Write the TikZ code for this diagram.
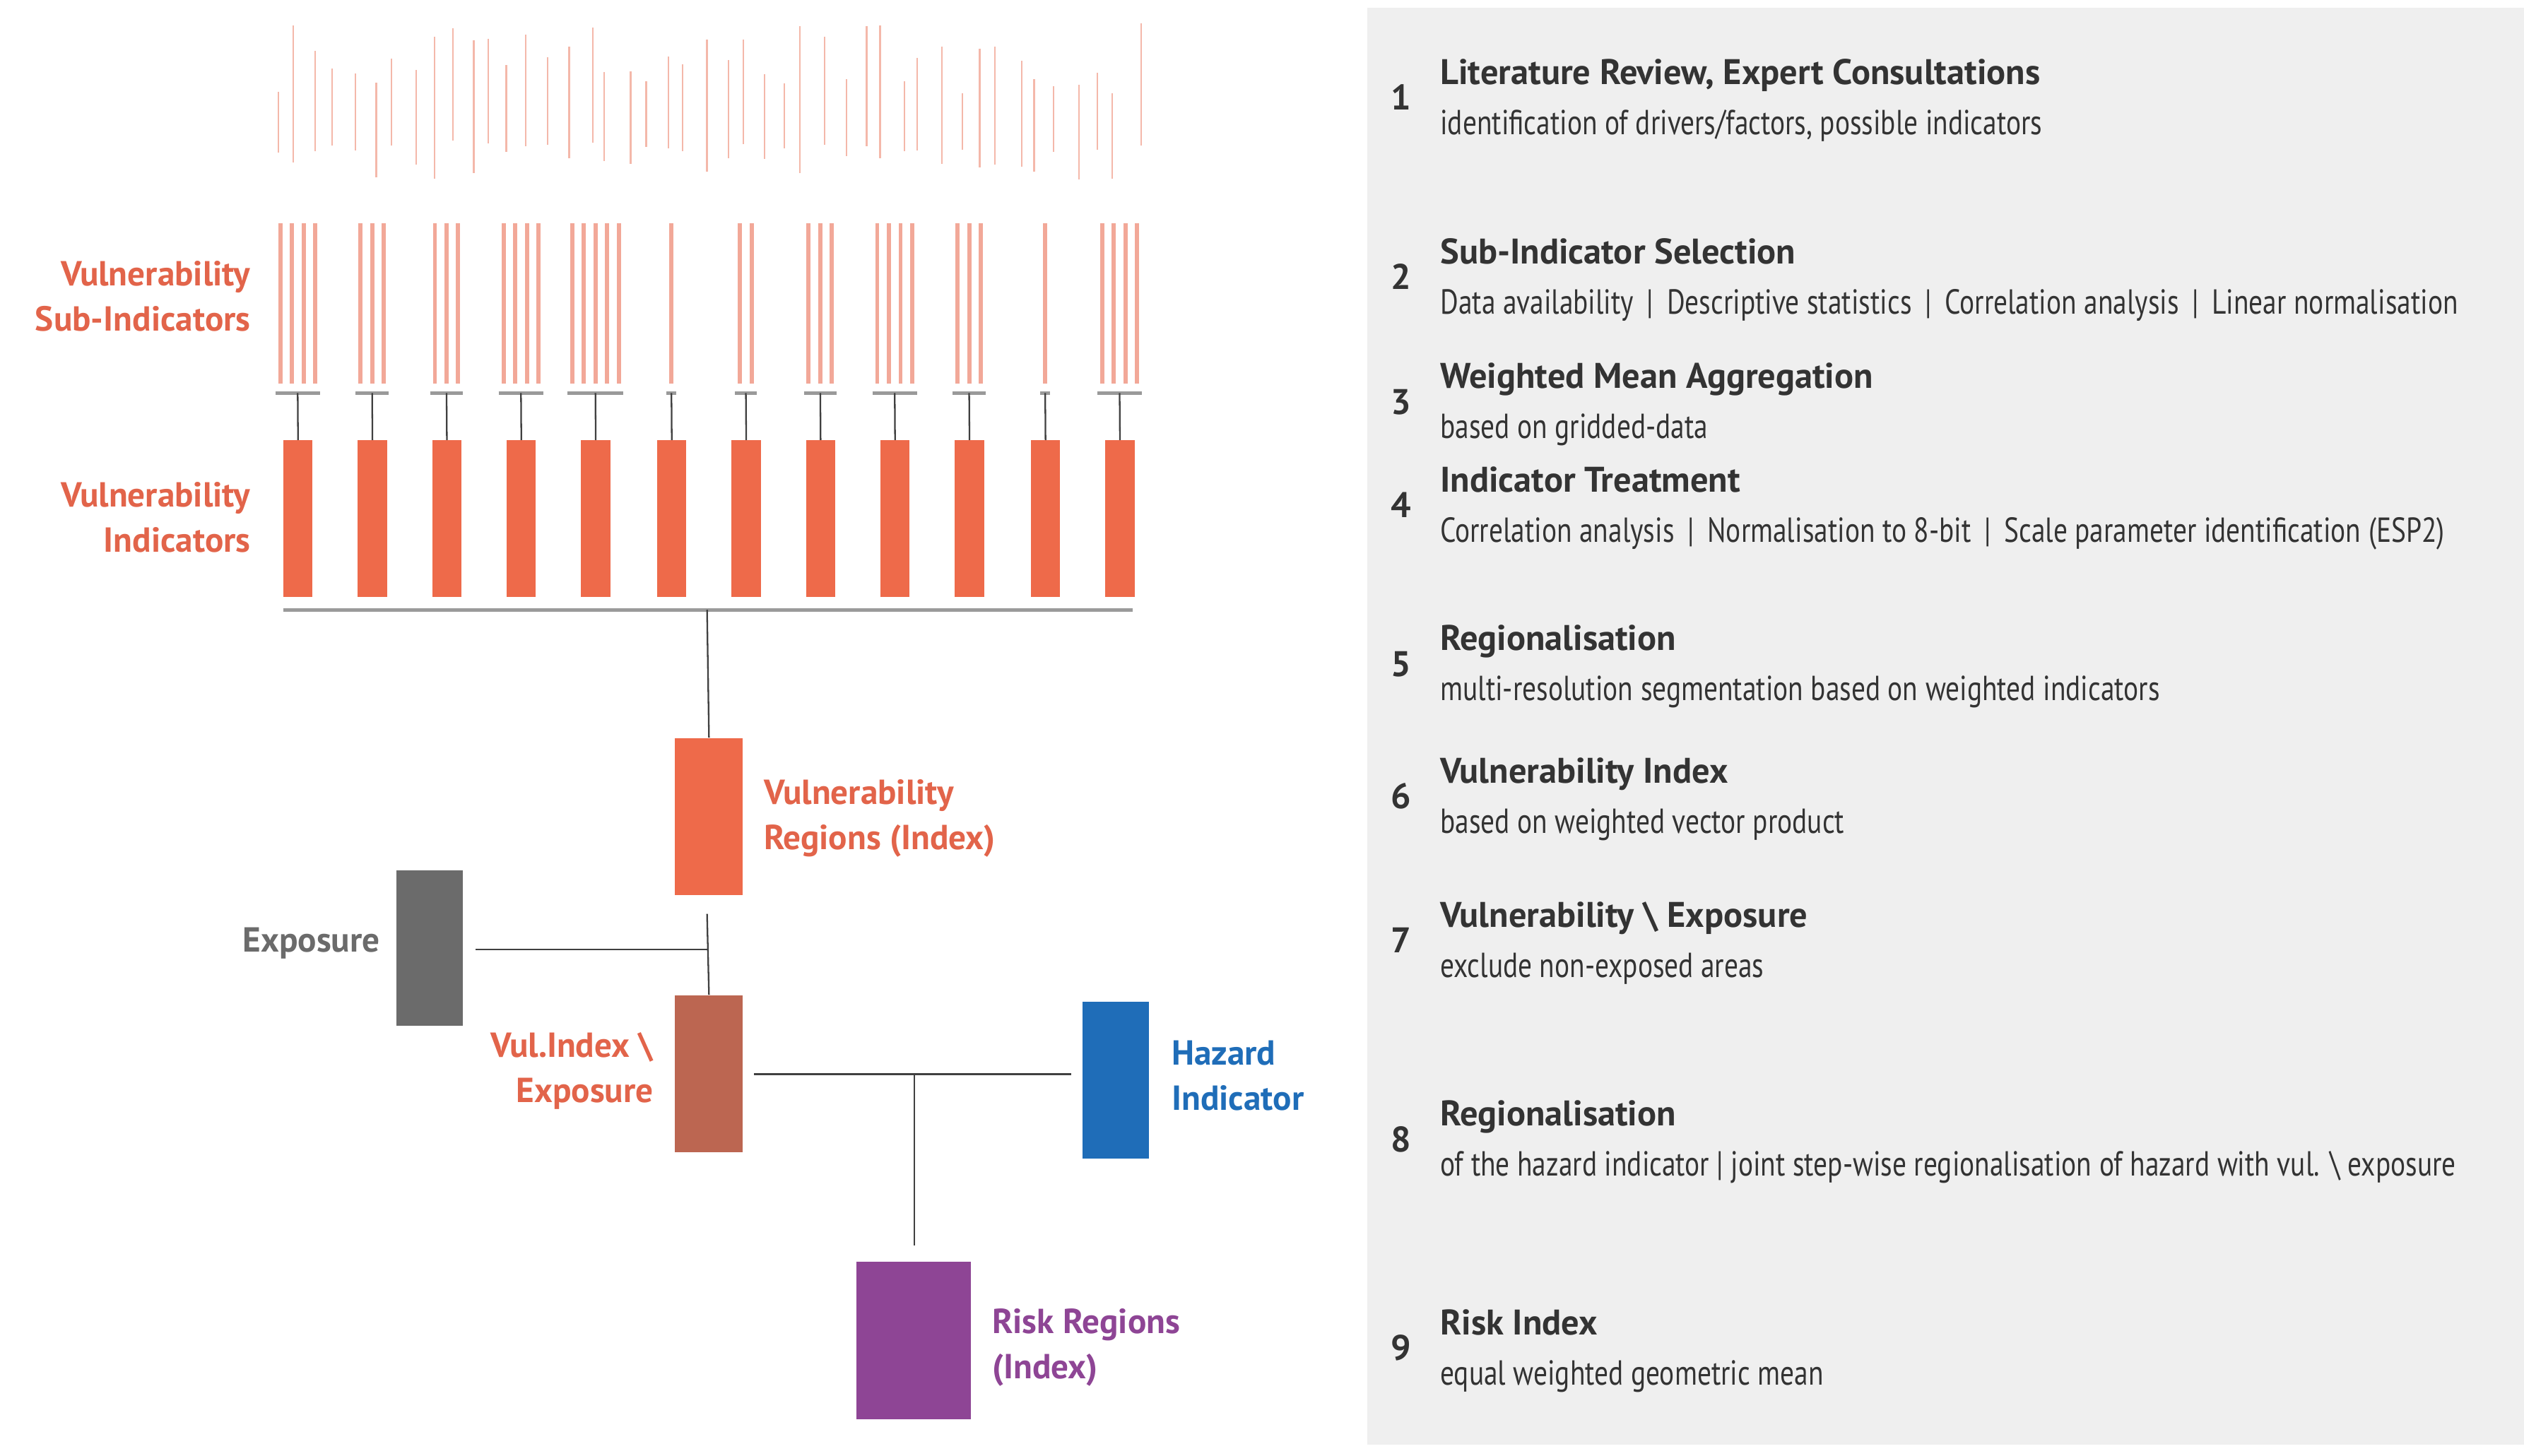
\documentclass[tikz,border=0pt]{standalone}
\usepackage{fontspec}
\setmainfont{PT Sans}
\newfontfamily\cond[FakeStretch=0.8]{PT Sans}
\definecolor{org}{HTML}{EE6A4A}
\definecolor{orgt}{HTML}{E2644A}
\definecolor{sub}{HTML}{F2A898}
\definecolor{thinc}{HTML}{F4B8AA}
\definecolor{gline}{HTML}{9A9A9A}
\definecolor{panel}{HTML}{EFEFEF}
\definecolor{txt}{HTML}{333333}
\definecolor{vulx}{HTML}{BC6651}
\definecolor{haz}{HTML}{1F6DB8}
\definecolor{risk}{HTML}{8E4595}
\definecolor{expo}{HTML}{6B6B6B}
\tikzset{
  lab/.style={font=\fontsize{21.5}{28}\selectfont\bfseries, inner sep=0pt},
  ttl/.style={font=\fontsize{22}{26}\selectfont\bfseries, text=txt, anchor=base west, inner sep=0pt},
  sbt/.style={font=\cond\fontsize{21.5}{24}\selectfont, text=txt, anchor=base west, inner sep=0pt},
  num/.style={font=\fontsize{22}{26}\selectfont\bfseries, text=txt, anchor=base, inner sep=0pt},
  box/.style={draw=none, inner sep=0pt, minimum width=#1, anchor=north west},
  conn/.style={draw=black!75, line width=1pt},
}
\begin{document}
\begin{tikzpicture}[x=1pt,y={(0pt,-1pt)}]
\useasboundingbox (0,0) rectangle (1560,900);
\fill[panel] (845,5) rectangle (1560,893);
% top random thin lines
\pgfmathsetseed{11}
\foreach \i in {0,...,44}{
  \pgfmathsetmacro\xx{170+\i*12.1+rand*3}
  \pgfmathsetmacro\ya{14+rnd*45}
  \pgfmathsetmacro\yb{85+rnd*27}
  \draw[thinc, line width=1pt] (\xx,\ya) -- (\xx,\yb);
}
% sub-indicator groups and indicators
\foreach \c/\n [count=\k] in {184/4,230/3,276/3,322/4,368/5,415/1,461/2,507/3,553/4,599/3,646/1,692/4}{
  \pgfmathsetmacro\st{\c-(\n-1)*3.6}
  \foreach \j in {1,...,\n}{
    \draw[sub, line width=2.6pt] ({\st+(\j-1)*7.2},138) -- ({\st+(\j-1)*7.2},237);
  }
  \draw[gline, line width=2pt] ({\st-3},243) -- ({\st+(\n-1)*7.2+3},243);
  \coordinate (s\k) at (\c,243);
  \node[box=18pt, minimum height=97pt, fill=org] (i\k) at ({\c-9},272) {};
  \draw[conn] (s\k) -- (i\k.north);
}
\draw[gline, line width=2pt] (175,377) -- (700,377);
\coordinate (agg) at (437,377);
% vulnerability regions
\node[box=42pt, minimum height=97pt, fill=org] (vr) at (417,456) {};
\draw[conn] (agg) -- (vr.north);
\node[lab, text=orgt, align=left, anchor=west] (vrl) at (472,506) {Vulnerability\\Regions (Index)};
% exposure
\node[box=41pt, minimum height=96pt, fill=expo] (ex) at (245,538) {};
\node[lab, text=expo, anchor=east] (exl) at (235,583) {Exposure};
\node[box=42pt, minimum height=97pt, fill=vulx] (vx) at (417,615) {};
\coordinate (j1) at (437,587);
\coordinate (j1a) at (437,565);
\draw[conn] (294,587) coordinate (exr) -- (j1);
\draw[conn] (j1a) -- (vx.north);
\node[lab, text=orgt, align=right, anchor=east] (vxl) at (404,662) {Vul.Index \textbackslash\\Exposure};
% hazard
\node[box=41pt, minimum height=97pt, fill=haz] (hz) at (669,619) {};
\node[lab, text=haz, align=left, anchor=west] (hzl) at (724,665) {Hazard\\Indicator};
\coordinate (j2) at (565,664);
\draw[conn] (466,664) coordinate (vxr) -- (662,664) coordinate (hzlft);
% risk
\node[box=71pt, minimum height=97pt, fill=risk] (rk) at (529,780) {};
\draw[conn] (j2) -- (565,770) coordinate (rkt);
\node[lab, text=risk, align=left, anchor=west] (rkl) at (613,833) {Risk Regions\\(Index)};
% left labels
\node[lab, text=orgt, align=right, anchor=east] (sil) at (155,183) {Vulnerability\\Sub-Indicators};
\node[lab, text=orgt, align=right, anchor=east] (vil) at (155,320) {Vulnerability\\Indicators};
% right panel
\foreach \n/\t/\s/\y in {
 1/{Literature Review, Expert Consultations}/{identification of drivers/factors, possible indicators}/46,
 2/{Sub-Indicator Selection}/{Data availability \,|\, Descriptive statistics \,|\, Correlation analysis \,|\, Linear normalisation}/157,
 3/{Weighted Mean Aggregation}/{based on gridded-data}/234,
 4/{Indicator Treatment}/{Correlation analysis \,|\, Normalisation to 8-bit \,|\, Scale parameter identification (ESP2)}/298,
 5/{Regionalisation}/{multi-resolution segmentation based on weighted indicators}/396,
 6/{Vulnerability Index}/{based on weighted vector product}/478,
 7/{Vulnerability \textbackslash\ Exposure}/{exclude non-exposed areas}/567,
 8/{Regionalisation}/{of the hazard indicator | joint step-wise regionalisation of hazard with vul. \textbackslash\ exposure}/690,
 9/{Risk Index}/{equal weighted geometric mean}/819}{
  \node[ttl] (t\n) at (890,\y+6) {\t};
  \node[sbt] (b\n) at (890,\y+37) {\s};
  \node[num] (n\n) at (866,\y+22) {\n};
}
\end{tikzpicture}
\end{document}
